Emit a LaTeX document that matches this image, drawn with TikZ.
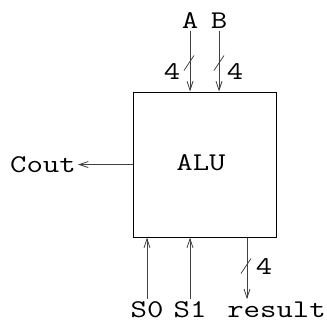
\documentclass[tikz,border=0pt]{standalone}
\usepackage{fontspec}
\usetikzlibrary{arrows.meta}
\newcommand{\wt}[1]{\scalebox{1.25}[1]{#1}}
\begin{document}
\begin{tikzpicture}[x=1pt,y=-1pt,
  lbl/.style={font=\ttfamily\fontsize{25.5}{29}\selectfont, inner sep=2pt},
  arr/.style={-{Straight Barb[length=9pt,width=6pt]}, line width=0.8pt, draw=black!75},
  bus/.style={line width=0.8pt, draw=black!75}]
\useasboundingbox (0,0) rectangle (327,322);
\node[draw, line width=1pt, minimum width=143pt, minimum height=145pt, inner sep=0pt] (alu) at (204.5,164.5) {};
\node[lbl] (alut) at (201,163) {\wt{ALU}};
% inputs A, B
\node[lbl, anchor=base] (A) at (190,28.5) {\wt{A}};
\node[lbl, anchor=base] (B) at (219,28.5) {\wt{B}};
\draw[arr] (A.south) -- (A.south |- alu.north);
\draw[arr] (B.south) -- (B.south |- alu.north);
\coordinate (sa) at (189,63);
\coordinate (sb) at (219,63);
\draw[bus] ([shift={(-5,7.5)}]sa) -- ([shift={(5,-7.5)}]sa);
\draw[bus] ([shift={(-5,7.5)}]sb) -- ([shift={(5,-7.5)}]sb);
\node[lbl, anchor=base] (wa) at (172,79.5) {\wt{4}};
\node[lbl, anchor=base] (wb) at (235,79.5) {\wt{4}};
% Cout
\node[lbl, anchor=base east] (cout) at (78,172.5) {\wt{Cout}};
\draw[arr] (alu.west) -- (alu.west -| cout.east);
% selects and result
\node[lbl, anchor=base] (s0) at (147,317) {\wt{S0}};
\node[lbl, anchor=base] (s1) at (190,317) {\wt{S1}};
\node[lbl, anchor=base] (res) at (276.5,317) {\wt{result}};
\draw[arr] (s0.north) -- (s0.north |- alu.south);
\draw[arr] (s1.north) -- (s1.north |- alu.south);
\coordinate (rx) at (247,0);
\draw[arr] (rx |- alu.south) -- (rx |- res.north);
\coordinate (sr) at (246,266);
\draw[bus] ([shift={(-5,7.5)}]sr) -- ([shift={(5,-7.5)}]sr);
\node[lbl, anchor=base] (wr) at (264,274.5) {\wt{4}};
\end{tikzpicture}
\end{document}
